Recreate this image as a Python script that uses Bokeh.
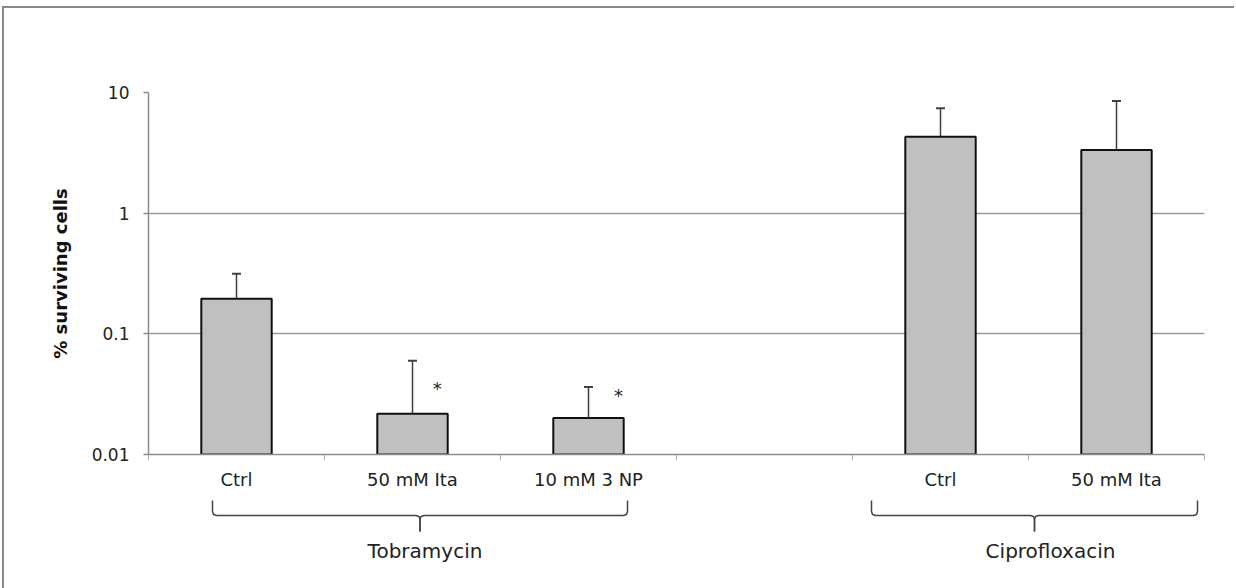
from bokeh.plotting import figure
from bokeh.layouts import column
from bokeh.models import ColumnDataSource, Range1d, FixedTicker, Whisker, TeeHead
from bokeh.core.properties import value
from bokeh.embed import file_html
from bokeh.resources import INLINE

# ---- data ----
tick_labels = ["Ctrl", "50 mM Ita", "10 mM 3 NP", "", "Ctrl", "50 mM Ita"]
survival = [0.195, 0.0218, 0.0201, None, 4.3, 3.34]
err_upper = [0.315, 0.0598, 0.0362, None, 7.4, 8.5]
significant = [False, True, True, False, False, False]
star_level = [None, 0.0353, 0.0309, None, None, None]
groups = ["Tobramycin", "Ciprofloxacin"]
group_slots = [(0, 2), (4, 5)]
y_ticks = [0.01, 0.1, 1, 10]

FONT = "DejaVu Sans"
W, H = 1236, 588
MX, MY, BW = 2, 6, 2               # chart-area border: margin and width
OX, OY = MX + BW, MY + BW
FL, FR, FT, FB = 148, 32, 92, 134  # plot frame in page pixels
SLACK = 2
H1 = 494 - OY
W1 = W - OX - SLACK
slot_px = (W - FL - FR) / len(tick_labels)

xs, tops, ups = [], [], []
for i, (v, u) in enumerate(zip(survival, err_upper)):
    if v is not None:
        xs.append(i + 0.5)
        tops.append(v)
        ups.append(u)
src = ColumnDataSource(dict(x=xs, top=tops, upper=ups))

p = figure(width=W1, height=H1, output_backend="svg", toolbar_location=None,
           x_range=Range1d(0, len(tick_labels)), y_range=Range1d(y_ticks[0], y_ticks[-1]),
           y_axis_type="log", min_border_left=FL - OX, min_border_right=FR - SLACK,
           min_border_top=FT - OY, min_border_bottom=H1 - (H - FB - OY))
p.outline_line_color = None

p.vbar(x="x", top="top", bottom=y_ticks[0], width=0.4, source=src,
       fill_color="#c0c0c0", line_color="#111111", line_width=2)

p.add_layout(Whisker(base="x", upper="upper", lower="top", source=src,
                     line_color="#404040", line_width=1.5,
                     upper_head=TeeHead(size=9, line_color="#404040", line_width=2),
                     lower_head=None))

# significance stars
star_dx = [0, 0.14, 0.17, 0, 0, 0]
sx = [i + 0.5 + star_dx[i] for i, s in enumerate(significant) if s]
sy = [star_level[i] for i, s in enumerate(significant) if s]
p.text(x=sx, y=sy, text=["*"] * len(sx), text_font=value(FONT), text_font_size="18px",
       text_align="center", text_baseline="middle", text_color="#222222")

# grid
p.xgrid.visible = False
p.ygrid.ticker = FixedTicker(ticks=y_ticks)
p.ygrid.grid_line_color = "#9a9a9a"
p.ygrid.grid_line_width = 1.5

# y axis
ya = p.yaxis[0]
ya.ticker = FixedTicker(ticks=y_ticks, minor_ticks=[])
ya.major_label_overrides = {0.01: "0.01", 0.1: "0.1", 1: "1", 10: "10"}
ya.axis_line_color = "#8a8a8a"
ya.axis_line_width = 1.5
ya.major_tick_line_color = "#8a8a8a"
ya.major_tick_line_width = 1.5
ya.major_tick_out = 5
ya.major_tick_in = 0
ya.minor_tick_line_color = None
ya.major_label_text_font = FONT
ya.major_label_text_font_size = "17px"
ya.major_label_text_color = "#222222"
ya.major_label_standoff = 14
ya.axis_label = "% surviving cells"
ya.axis_label_text_font = FONT
ya.axis_label_text_font_style = "bold"
ya.axis_label_text_font_size = "18px"
ya.axis_label_text_color = "#111111"
ya.axis_label_standoff = 18

# x axis
xa = p.xaxis[0]
centers = [i + 0.5 for i in range(len(tick_labels))]
xa.ticker = FixedTicker(ticks=centers, minor_ticks=list(range(len(tick_labels) + 1)))
xa.major_label_overrides = {c: lab for c, lab in zip(centers, tick_labels)}
xa.axis_line_color = "#8a8a8a"
xa.axis_line_width = 1.5
xa.major_tick_line_color = None
xa.major_tick_out = 0
xa.major_tick_in = 0
xa.minor_tick_line_color = "#b0b0b0"
xa.minor_tick_out = 6
xa.minor_tick_in = 0
xa.major_label_text_font = FONT
xa.major_label_text_font_size = "18px"
xa.major_label_text_color = "#222222"
xa.major_label_standoff = 8

# ---- lower strip with group brackets (shares the plot's x range) ----
H2 = H - OY - H1
y_top_px = OY + H1
q = figure(width=W1, height=H2, output_backend="svg", toolbar_location=None,
           x_range=p.x_range, y_range=Range1d(H, y_top_px),
           min_border_left=FL - OX, min_border_right=FR - SLACK,
           min_border_top=0, min_border_bottom=0)
q.axis.visible = False
q.grid.visible = False
q.outline_line_color = None


def px(d):
    return d / slot_px


br_top, br_mid, br_tip, lab_y = 500, 515, 531, 550
pad_left = [24, 69]
pad_right = [39, 81]
lab_dx = [5, 16]
for k, ((a, b), name) in enumerate(zip(group_slots, groups)):
    L = a + 0.5 - px(pad_left[k])
    R = b + 0.5 + px(pad_right[k])
    C = (L + R) / 2
    path_x = [L, L, L + px(1), L + px(4), C - px(4), C - px(1), C, C]
    path_y = [br_top, br_mid - 4, br_mid - 1, br_mid, br_mid, br_mid + 1, br_mid + 4, br_tip]
    rx = [2 * C - x for x in path_x]
    q.line(x=path_x, y=path_y, line_color="#444444", line_width=1.5)
    q.line(x=rx, y=path_y, line_color="#444444", line_width=1.5)
    q.text(x=[C + px(lab_dx[k])], y=[lab_y], text=[name], text_font=value(FONT),
           text_font_size="20px", text_color="#222222", text_align="center",
           text_baseline="middle")

layout = column(p, q, spacing=0,
                styles={"border-left": f"{BW}px solid #8a8a8a",
                        "border-top": f"{BW}px solid #8a8a8a",
                        "margin-left": f"{MX}px", "margin-top": f"{MY}px"})

open("out.html", "w").write(file_html(layout, INLINE))
